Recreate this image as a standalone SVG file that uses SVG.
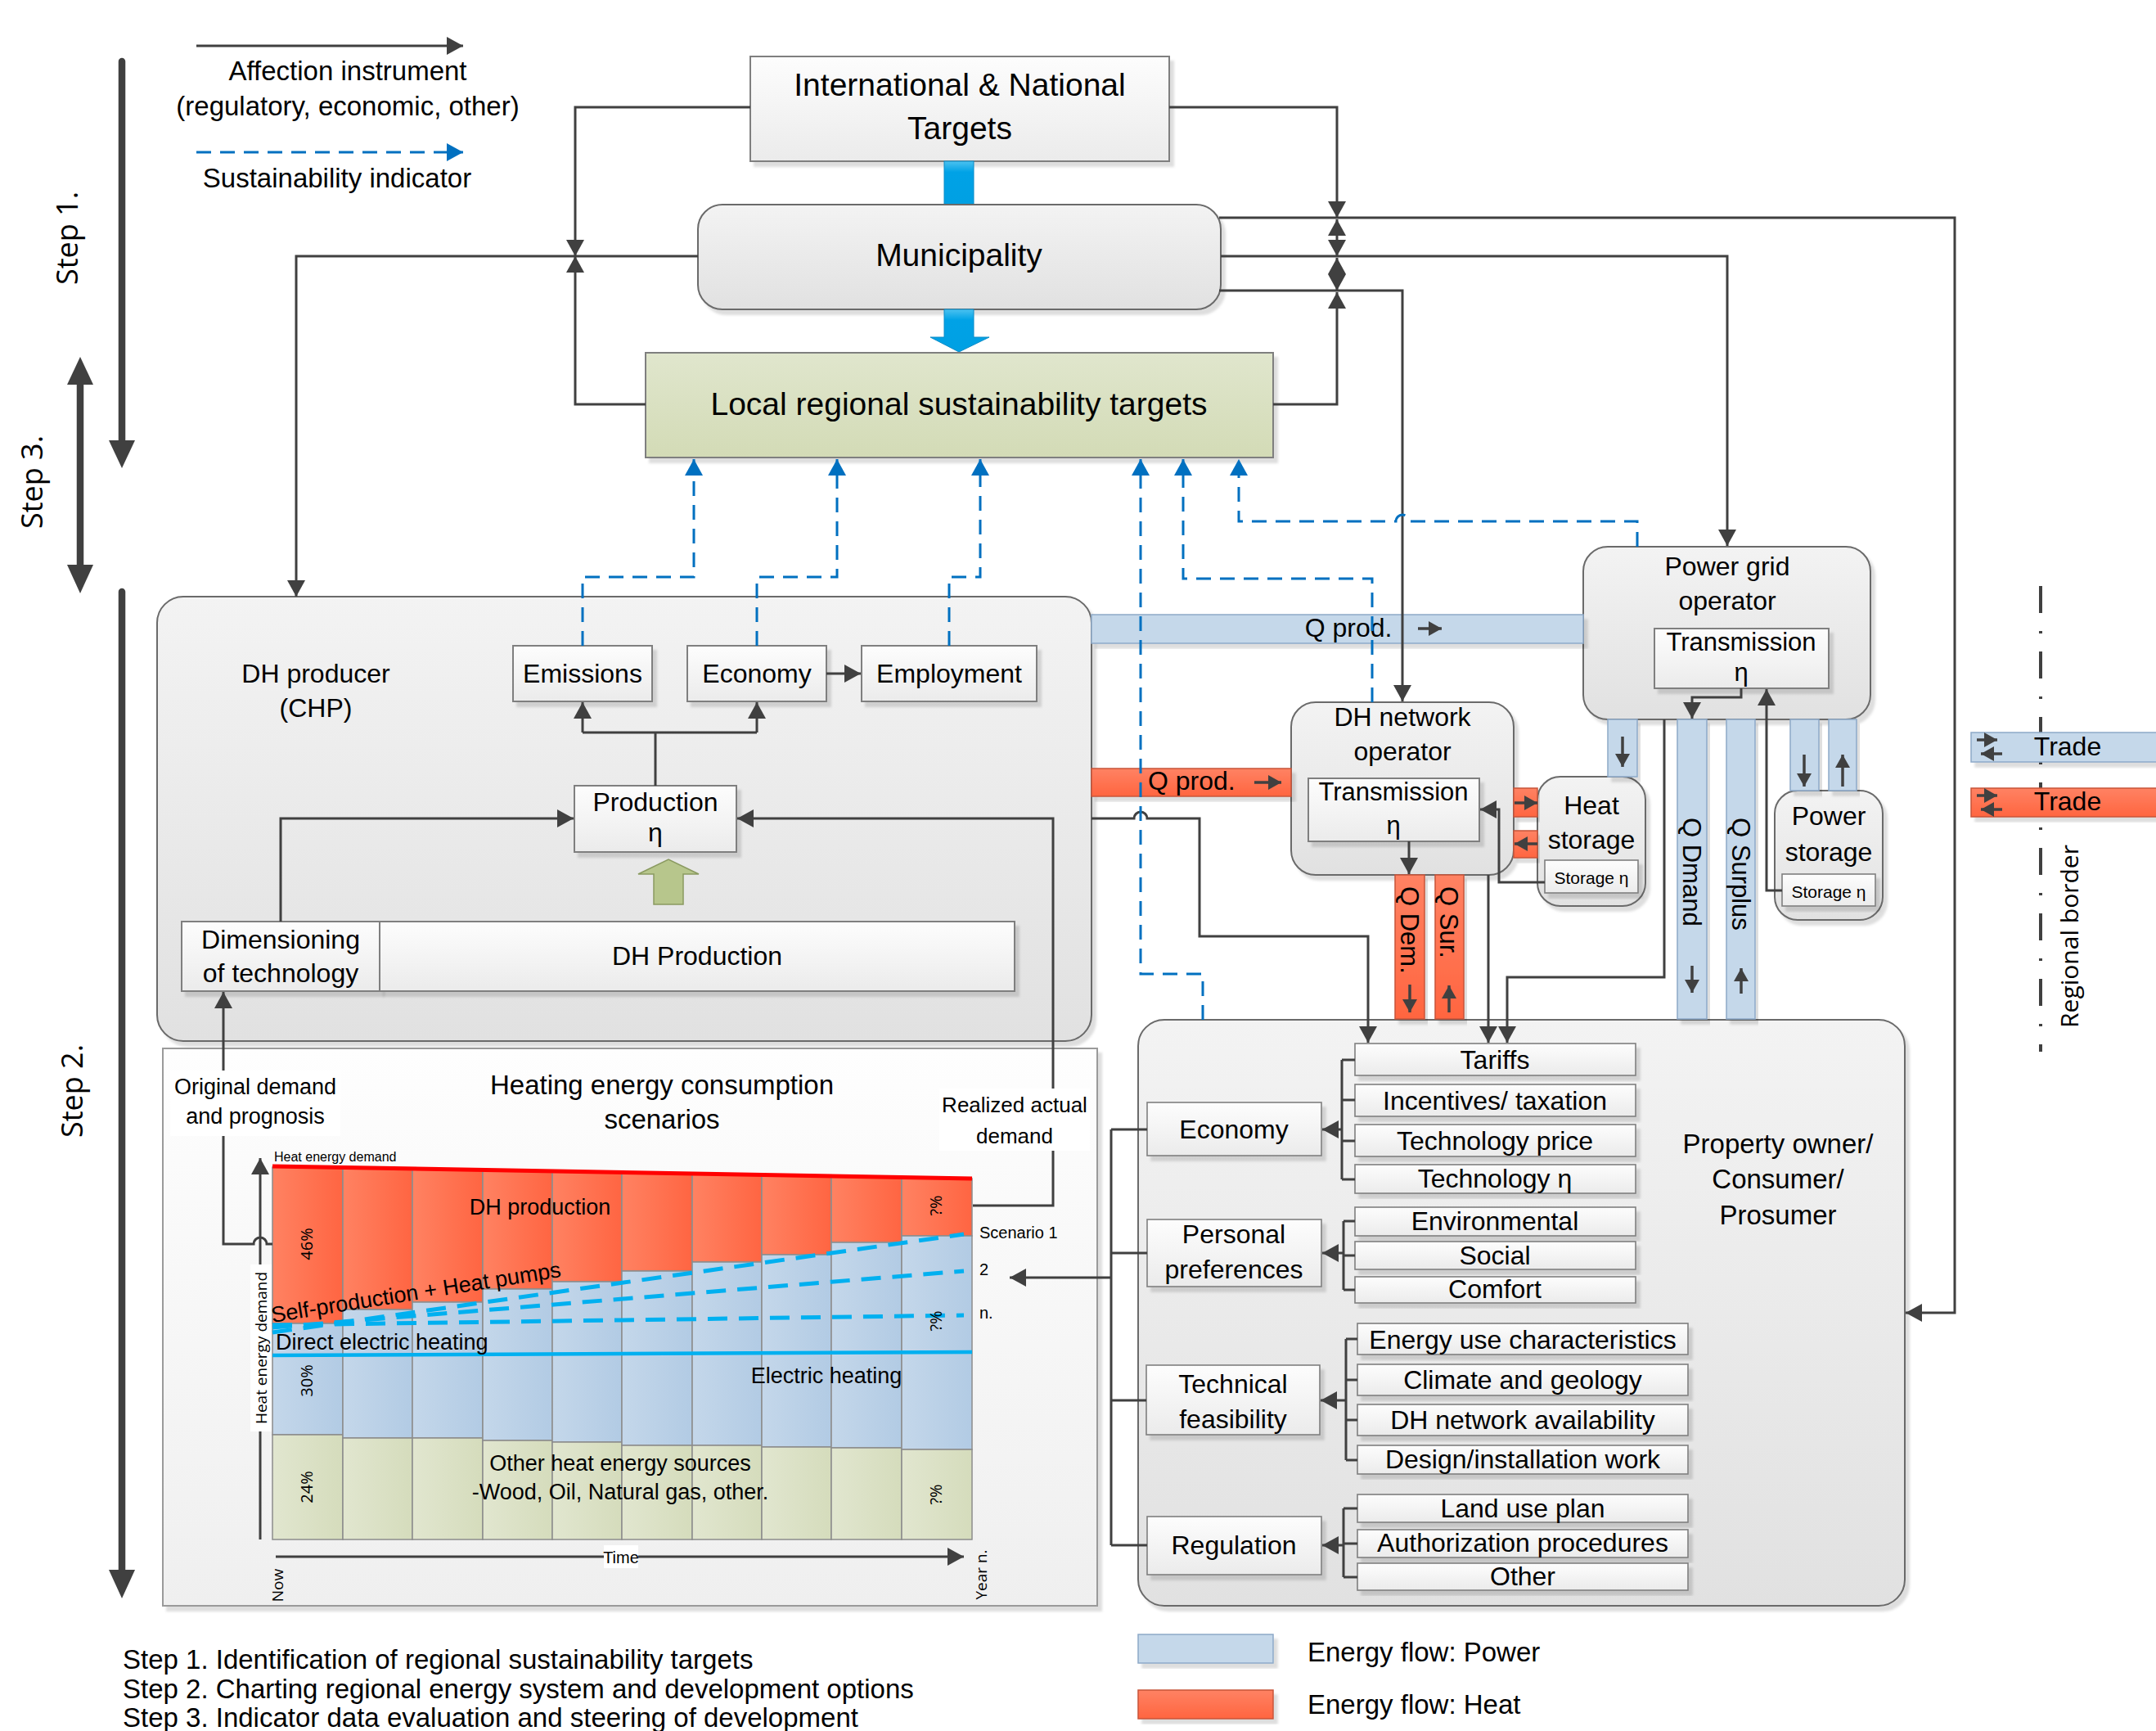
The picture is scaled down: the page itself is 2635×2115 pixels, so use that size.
<svg xmlns="http://www.w3.org/2000/svg" width="2635" height="2115" viewBox="0 0 2635 2115">
<defs>
<style>
text{font-family:"Liberation Sans",Arial,sans-serif;fill:#000}
.m{text-anchor:middle}
.o{font-family:"Open Sans","DejaVu Sans",sans-serif}
.s39{font-size:39px}.s33{font-size:33px}.s32{font-size:32px}.s31{font-size:31px}.s27{font-size:27px}.s26{font-size:26px}.s21{font-size:21px}.s20{font-size:20px}.s19{font-size:19px}.s16{font-size:16px}.s36{font-size:36px}.s30{font-size:30px}
.box{fill:url(#gBox);stroke:#7f7f7f;stroke-width:2;filter:url(#sh)}
.cont{fill:url(#gCont);stroke:#6a6a6a;stroke-width:2;filter:url(#sh)}
.sub{fill:url(#gBox);stroke:#7f7f7f;stroke-width:1.6;filter:url(#sh)}
.ln{fill:none;stroke:#404040;stroke-width:3}
.ds{fill:none;stroke:#0070c0;stroke-width:3;stroke-dasharray:18 11}
.pw{fill:#c5d8ea;stroke:#8da9c8;stroke-width:1.5;filter:url(#sh)}
.ht{fill:url(#gHeat);stroke:#c8543a;stroke-width:1.5;filter:url(#sh)}
.fa{fill:none;stroke:#404040;stroke-width:3.5}
.big{fill:none;stroke:#404040;stroke-width:8.5;stroke-linecap:round}
.bh{fill:#404040}
.br{fill:url(#gBarR);stroke:#8c8c8c;stroke-width:1.5}
.bb{fill:url(#gBarB);stroke:#8c8c8c;stroke-width:1.5}
.bg{fill:url(#gBarG);stroke:#8c8c8c;stroke-width:1.5}
.sc{fill:none;stroke:#00b0f0;stroke-width:5;stroke-dasharray:24 14}
</style>
<linearGradient id="gBox" x1="0" y1="0" x2="0" y2="1"><stop offset="0" stop-color="#fdfdfd"/><stop offset="1" stop-color="#ebebeb"/></linearGradient>
<linearGradient id="gCont" x1="0" y1="0" x2="0" y2="1"><stop offset="0" stop-color="#f3f3f3"/><stop offset="1" stop-color="#e1e1e1"/></linearGradient>
<linearGradient id="gChart" x1="0" y1="0" x2="0" y2="1"><stop offset="0" stop-color="#fefefe"/><stop offset="1" stop-color="#efefef"/></linearGradient>
<linearGradient id="gGreen" x1="0" y1="0" x2="0" y2="1"><stop offset="0" stop-color="#e0e6cd"/><stop offset="1" stop-color="#d3dbb6"/></linearGradient>
<linearGradient id="gHeat" x1="0" y1="0" x2="0" y2="1"><stop offset="0" stop-color="#ff8263"/><stop offset="1" stop-color="#ff6540"/></linearGradient>
<linearGradient id="gBarR" x1="0" y1="0" x2="1" y2="0"><stop offset="0" stop-color="#ff8262"/><stop offset="1" stop-color="#ff6542"/></linearGradient>
<linearGradient id="gBarB" x1="0" y1="0" x2="1" y2="0"><stop offset="0" stop-color="#c4d7ea"/><stop offset="1" stop-color="#b2cbe4"/></linearGradient>
<linearGradient id="gBarG" x1="0" y1="0" x2="1" y2="0"><stop offset="0" stop-color="#e1e6cf"/><stop offset="1" stop-color="#d5dcbc"/></linearGradient>
<linearGradient id="gBlueA" x1="0" y1="0" x2="0" y2="1"><stop offset="0" stop-color="#4cc2f0"/><stop offset="0.25" stop-color="#00a2e6"/><stop offset="1" stop-color="#00a0e3"/></linearGradient>
<filter id="sh" x="-5%" y="-5%" width="115%" height="125%"><feDropShadow dx="5" dy="6" stdDeviation="1.5" flood-color="#000" flood-opacity="0.13"/></filter>
<marker id="ah" viewBox="0 0 20 22" refX="20" refY="11" markerWidth="20" markerHeight="22" markerUnits="userSpaceOnUse" orient="auto"><path d="M0,0 L20,11 L0,22 z" fill="#404040"/></marker>
<marker id="ahb" viewBox="0 0 20 22" refX="20" refY="11" markerWidth="20" markerHeight="22" markerUnits="userSpaceOnUse" orient="auto"><path d="M0,0 L20,11 L0,22 z" fill="#0070c0"/></marker>
<marker id="ahs" viewBox="0 0 16 18" refX="16" refY="9" markerWidth="16" markerHeight="18" markerUnits="userSpaceOnUse" orient="auto"><path d="M0,0 L16,9 L0,18 z" fill="#404040"/></marker>
</defs>
<rect width="2635" height="2115" fill="#fff"/>

<g id="legend-top">
<path class="ln" d="M240,56 H566" marker-end="url(#ah)"/>
<text x="425" y="98" class="m s33">Affection instrument</text>
<text x="425" y="141" class="m s33">(regulatory, economic, other)</text>
<path class="ds" d="M240,186 H566" marker-end="url(#ahb)"/>
<text x="412" y="229" class="m s33">Sustainability indicator</text>
</g>

<g id="steps">
<path class="big" d="M149,75 V540"/><polygon class="bh" points="133,538 165,538 149,572"/>
<path class="big" d="M98,466 V694"/><polygon class="bh" points="82,470 114,470 98,436"/><polygon class="bh" points="82,690 114,690 98,725"/>
<path class="big" d="M149,723 V1920"/><polygon class="bh" points="133,1918 165,1918 149,1953"/>
<text class="o s36 m" transform="translate(95,291) rotate(-90)">Step 1.</text>
<text class="o s36 m" transform="translate(52,589) rotate(-90)">Step 3.</text>
<text class="o s36 m" transform="translate(101,1333) rotate(-90)">Step 2.</text>
</g>

<g id="intl">
<rect x="917" y="69" width="512" height="128" class="box"/>
<text x="1173" y="117" class="m s39">International &amp; National</text>
<text x="1173" y="170" class="m s39">Targets</text>
</g>
<g id="flow-intl-muni"><rect x="1154" y="197" width="36" height="53" fill="url(#gBlueA)" stroke="#0a8cc8" stroke-width="1"/></g>
<g id="municipality">
<rect x="853" y="250" width="639" height="128" rx="30" class="cont"/>
<text x="1172" y="325" class="m s39">Municipality</text>
</g>
<g id="flow-muni-local"><polygon points="1154,378 1190,378 1190,412 1209,412 1172,430 1137,412 1154,412" fill="url(#gBlueA)" stroke="#0a8cc8" stroke-width="1"/></g>
<g id="local">
<rect x="789" y="431" width="767" height="128" fill="url(#gGreen)" stroke="#7f7f7f" stroke-width="2" filter="url(#sh)"/>
<text x="1172" y="507" class="m s39">Local regional sustainability targets</text>
</g>

<g id="dh-producer">
<rect x="192" y="729" width="1142" height="543" rx="32" class="cont"/>
<text x="386" y="834" class="m s32">DH producer</text>
<text x="386" y="876" class="m s32">(CHP)</text>
</g>
<g id="emissions"><rect x="627" y="789" width="170" height="68" class="box"/><text x="712" y="834" class="m s32">Emissions</text></g>
<g id="economy-dh"><rect x="840" y="789" width="170" height="68" class="box"/><text x="925" y="834" class="m s32">Economy</text></g>
<g id="employment"><rect x="1053" y="789" width="214" height="68" class="box"/><text x="1160" y="834" class="m s32">Employment</text></g>
<g id="production"><rect x="702" y="960" width="198" height="81" class="box"/><text x="801" y="991" class="m s32">Production</text><text x="801" y="1028" class="m s32">η</text></g>
<g id="green-arrow"><polygon points="799,1105 835,1105 835,1068 854,1068 817,1050 780,1068 799,1068" fill="#b7c68c" stroke="#8a9a60" stroke-width="1.5"/></g>
<g id="dimensioning"><rect x="222" y="1126" width="242" height="85" class="box"/><text x="343" y="1159" class="m s32">Dimensioning</text><text x="343" y="1200" class="m s32">of technology</text></g>
<g id="dh-production"><rect x="464" y="1126" width="776" height="85" class="box"/><text x="852" y="1179" class="m s32">DH Production</text></g>

<g id="chart">
<rect x="199" y="1281" width="1142" height="681" fill="url(#gChart)" stroke="#9a9a9a" stroke-width="2" filter="url(#sh)"/>
<text x="809" y="1337" class="m s33">Heating energy consumption</text>
<text x="809" y="1379" class="m s33">scenarios</text>
<rect class="br" x="333" y="1426" width="86" height="191"/><rect class="bb" x="333" y="1617" width="86" height="136"/><rect class="bg" x="333" y="1753" width="86" height="128"/>
<rect class="br" x="419" y="1428" width="85" height="172"/><rect class="bb" x="419" y="1600" width="85" height="157"/><rect class="bg" x="419" y="1757" width="85" height="124"/>
<rect class="br" x="504" y="1429" width="86" height="162"/><rect class="bb" x="504" y="1591" width="86" height="166"/><rect class="bg" x="504" y="1757" width="86" height="124"/>
<rect class="br" x="590" y="1431" width="85" height="144"/><rect class="bb" x="590" y="1575" width="85" height="185"/><rect class="bg" x="590" y="1760" width="85" height="121"/>
<rect class="br" x="675" y="1432" width="85" height="134"/><rect class="bb" x="675" y="1566" width="85" height="196"/><rect class="bg" x="675" y="1762" width="85" height="119"/>
<rect class="br" x="760" y="1434" width="86" height="119"/><rect class="bb" x="760" y="1553" width="86" height="213"/><rect class="bg" x="760" y="1766" width="86" height="115"/>
<rect class="br" x="846" y="1435" width="85" height="107"/><rect class="bb" x="846" y="1542" width="85" height="224"/><rect class="bg" x="846" y="1766" width="85" height="115"/>
<rect class="br" x="931" y="1437" width="85" height="96"/><rect class="bb" x="931" y="1533" width="85" height="235"/><rect class="bg" x="931" y="1768" width="85" height="113"/>
<rect class="br" x="1016" y="1438" width="86" height="80"/><rect class="bb" x="1016" y="1518" width="86" height="251"/><rect class="bg" x="1016" y="1769" width="86" height="112"/>
<rect class="br" x="1102" y="1440" width="86" height="70"/><rect class="bb" x="1102" y="1510" width="86" height="261"/><rect class="bg" x="1102" y="1771" width="86" height="110"/>
<path d="M333,1425 L1188,1440" stroke="#ff0000" stroke-width="5" fill="none"/>
<path d="M333,1656 L1188,1652" stroke="#00b0f0" stroke-width="4.5" fill="none"/>
<path class="sc" d="M333,1628 L1178,1508"/>
<path class="sc" d="M333,1622 L1178,1553"/>
<path class="sc" d="M333,1619 L1178,1607"/>
<text x="335" y="1419" class="s16">Heat energy demand</text>
<text x="660" y="1484" class="m s27">DH production</text>
<text class="s27" transform="translate(333,1616) rotate(-9)">Self-production + Heat pumps</text>
<text x="337" y="1649" class="s27">Direct electric heating</text>
<text x="1010" y="1690" class="m s27">Electric heating</text>
<text x="758" y="1797" class="m s27">Other heat energy sources</text>
<text x="758" y="1832" class="m s27">-Wood, Oil, Natural gas, other.</text>
<text class="o s20 m" transform="translate(382,1520) rotate(-90)">46%</text>
<text class="o s20 m" transform="translate(382,1687) rotate(-90)">30%</text>
<text class="o s20 m" transform="translate(382,1817) rotate(-90)">24%</text>
<text class="o s20 m" transform="translate(1151,1473) rotate(-90)">?%</text>
<text class="o s20 m" transform="translate(1151,1614) rotate(-90)">?%</text>
<text class="o s20 m" transform="translate(1151,1826) rotate(-90)">?%</text>
<text x="1197" y="1513" class="s20">Scenario 1</text>
<text x="1197" y="1558" class="s20">2</text>
<text x="1197" y="1611" class="s20">n.</text>
<path class="ln" d="M318,1881 V1415" marker-end="url(#ah)"/>
<path class="ln" d="M337,1902 H1178" marker-end="url(#ah)"/>
<rect x="306" y="1545" width="26" height="204" fill="#fff"/>
<text class="o s19 m" transform="translate(326,1647) rotate(-90)">Heat energy demand</text>
<rect x="738" y="1888" width="42" height="28" fill="#fff"/>
<text x="759" y="1910" class="m s20">Time</text>
<text class="o s19 m" transform="translate(346,1937) rotate(-90)">Now</text>
<text class="o s19 m" transform="translate(1206,1924) rotate(-90)">Year n.</text>
</g>

<g id="property-owner">
<rect x="1391" y="1246" width="937" height="716" rx="32" class="cont"/>
<text x="2173" y="1409" class="m s33">Property owner/</text>
<text x="2173" y="1452" class="m s33">Consumer/</text>
<text x="2173" y="1496" class="m s33">Prosumer</text>
</g>
<g id="economy-po"><rect x="1402" y="1347" width="213" height="65" class="sub"/><text x="1508" y="1391" class="m s32">Economy</text></g>
<g id="personal"><rect x="1402" y="1490" width="213" height="82" class="sub"/><text x="1508" y="1519" class="m s32">Personal</text><text x="1508" y="1562" class="m s32">preferences</text></g>
<g id="technical"><rect x="1401" y="1668" width="212" height="85" class="sub"/><text x="1507" y="1702" class="m s32">Technical</text><text x="1507" y="1745" class="m s32">feasibility</text></g>
<g id="regulation"><rect x="1402" y="1853" width="213" height="71" class="sub"/><text x="1508" y="1899" class="m s32">Regulation</text></g>
<g id="tariffs"><rect x="1656" y="1275" width="343" height="39" class="sub"/><text x="1827" y="1306" class="m s32">Tariffs</text></g>
<g id="incentives"><rect x="1656" y="1325" width="343" height="39" class="sub"/><text x="1827" y="1356" class="m s32">Incentives/ taxation</text></g>
<g id="tech-price"><rect x="1656" y="1374" width="343" height="39" class="sub"/><text x="1827" y="1405" class="m s32">Technology price</text></g>
<g id="tech-eta"><rect x="1656" y="1423" width="343" height="35" class="sub"/><text x="1827" y="1451" class="m s32">Technology η</text></g>
<g id="environmental"><rect x="1656" y="1475" width="343" height="35" class="sub"/><text x="1827" y="1503" class="m s32">Environmental</text></g>
<g id="social"><rect x="1656" y="1517" width="343" height="34" class="sub"/><text x="1827" y="1545" class="m s32">Social</text></g>
<g id="comfort"><rect x="1656" y="1560" width="343" height="32" class="sub"/><text x="1827" y="1586" class="m s32">Comfort</text></g>
<g id="energy-use"><rect x="1659" y="1617" width="404" height="38" class="sub"/><text x="1861" y="1648" class="m s32">Energy use characteristics</text></g>
<g id="climate"><rect x="1659" y="1667" width="404" height="38" class="sub"/><text x="1861" y="1697" class="m s32">Climate and geology</text></g>
<g id="dh-avail"><rect x="1659" y="1716" width="404" height="38" class="sub"/><text x="1861" y="1746" class="m s32">DH network availability</text></g>
<g id="design"><rect x="1659" y="1766" width="404" height="35" class="sub"/><text x="1861" y="1794" class="m s32">Design/installation work</text></g>
<g id="land-use"><rect x="1659" y="1826" width="404" height="34" class="sub"/><text x="1861" y="1854" class="m s32">Land use plan</text></g>
<g id="authorization"><rect x="1659" y="1869" width="404" height="34" class="sub"/><text x="1861" y="1896" class="m s32">Authorization procedures</text></g>
<g id="other"><rect x="1659" y="1910" width="404" height="33" class="sub"/><text x="1861" y="1937" class="m s32">Other</text></g>

<g id="dh-network">
<rect x="1578" y="858" width="272" height="211" rx="30" class="cont"/>
<text x="1714" y="887" class="m s32">DH network</text>
<text x="1714" y="929" class="m s32">operator</text>
<rect x="1599" y="951" width="209" height="77" class="box"/>
<text x="1703" y="978" class="m s31">Transmission</text>
<text x="1703" y="1019" class="m s31">η</text>
</g>
<g id="heat-storage">
<rect x="1879" y="949" width="132" height="158" rx="28" class="cont"/>
<text x="1945" y="995" class="m s32">Heat</text>
<text x="1945" y="1037" class="m s32">storage</text>
<rect x="1888" y="1051" width="114" height="40" class="sub"/>
<text x="1945" y="1080" class="m s21">Storage η</text>
</g>
<g id="power-grid">
<rect x="1935" y="668" width="351" height="211" rx="30" class="cont"/>
<text x="2111" y="703" class="m s32">Power grid</text>
<text x="2111" y="745" class="m s32">operator</text>
<rect x="2022" y="768" width="213" height="73" class="box"/>
<text x="2128" y="795" class="m s31">Transmission</text>
<text x="2128" y="832" class="m s31">η</text>
</g>
<g id="power-storage">
<rect x="2169" y="966" width="132" height="158" rx="28" class="cont"/>
<text x="2235" y="1008" class="m s32">Power</text>
<text x="2235" y="1052" class="m s32">storage</text>
<rect x="2178" y="1068" width="114" height="39" class="sub"/>
<text x="2235" y="1097" class="m s21">Storage η</text>
</g>

<g id="flows">
<rect class="pw" x="1334" y="751" width="601" height="35"/>
<text x="1648" y="778" class="m s32">Q prod.</text>
<path class="fa" d="M1733,768 H1762" marker-end="url(#ahs)"/>
<rect class="ht" x="1334" y="939" width="244" height="34"/>
<text x="1403" y="965" class="s32">Q prod.</text>
<path class="fa" d="M1533,956 H1566" marker-end="url(#ahs)"/>
<rect class="ht" x="1705" y="1069" width="36" height="176"/>
<text class="s31" transform="translate(1712,1083) rotate(90)">Q Dem.</text>
<path class="fa" d="M1723,1203 V1237" marker-end="url(#ahs)"/>
<rect class="ht" x="1754" y="1069" width="35" height="176"/>
<text class="s31" transform="translate(1760,1083) rotate(90)">Q Sur.</text>
<path class="fa" d="M1771,1237 V1204" marker-end="url(#ahs)"/>
<rect class="ht" x="1850" y="963" width="29" height="35"/>
<path class="fa" d="M1851,981 H1879" marker-end="url(#ahs)"/>
<rect class="ht" x="1850" y="1015" width="29" height="33"/>
<path class="fa" d="M1879,1031 H1851" marker-end="url(#ahs)"/>
<rect class="pw" x="1965" y="879" width="36" height="70"/>
<path class="fa" d="M1983,900 V937" marker-end="url(#ahs)"/>
<rect class="pw" x="2050" y="879" width="36" height="366"/>
<text class="s31" transform="translate(2057,999) rotate(90)">Q Dmand</text>
<path class="fa" d="M2068,1180 V1213" marker-end="url(#ahs)"/>
<rect class="pw" x="2110" y="879" width="35" height="366"/>
<text class="s31" transform="translate(2117,999) rotate(90)">Q Surplus</text>
<path class="fa" d="M2128,1214 V1183" marker-end="url(#ahs)"/>
<rect class="pw" x="2188" y="879" width="35" height="87"/>
<path class="fa" d="M2205,922 V961" marker-end="url(#ahs)"/>
<rect class="pw" x="2235" y="879" width="34" height="87"/>
<path class="fa" d="M2252,961 V922" marker-end="url(#ahs)"/>
</g>

<g id="regional-border">
<path d="M2494,716 V1285" stroke="#404040" stroke-width="4" stroke-dasharray="33 22 3 22" fill="none"/>
<text class="o s30 m" transform="translate(2540,1144) rotate(-90)">Regional border</text>
</g>
<g id="trade-power">
<rect class="pw" x="2409" y="895" width="240" height="36"/>
<path class="fa" d="M2416,904 H2441" marker-end="url(#ahs)"/>
<path class="fa" d="M2447,921 H2421" marker-end="url(#ahs)"/>
<text x="2527" y="923" class="m s32">Trade</text>
</g>
<g id="trade-heat">
<rect class="ht" x="2409" y="963" width="240" height="35"/>
<path class="fa" d="M2416,972 H2441" marker-end="url(#ahs)"/>
<path class="fa" d="M2447,989 H2421" marker-end="url(#ahs)"/>
<text x="2527" y="990" class="m s32">Trade</text>
</g>

<g id="connectors">
<path class="ln" d="M917,131 H703 V313" marker-end="url(#ah)"/>
<path class="ln" d="M789,494 H703 V313" marker-end="url(#ah)"/>
<path class="ln" d="M853,313 H362 V729" marker-end="url(#ah)"/>
<path class="ln" d="M1429,131 H1634 V266" marker-end="url(#ah)"/>
<path class="ln" d="M1634,290 V268" marker-end="url(#ah)"/>
<path class="ln" d="M1634,290 V313" marker-end="url(#ah)"/>
<path class="ln" d="M1634,335 V315" marker-end="url(#ah)"/>
<path class="ln" d="M1634,335 V355" marker-end="url(#ah)"/>
<path class="ln" d="M1556,494 H1634 V357" marker-end="url(#ah)"/>
<path class="ln" d="M1490,266 H2389 V1604 H2329" marker-end="url(#ah)"/>
<path class="ln" d="M1492,313 H2111 V667" marker-end="url(#ah)"/>
<path class="ln" d="M1490,355 H1714 V857" marker-end="url(#ah)"/>
<path class="ln" d="M801,960 V895"/>
<path class="ln" d="M712,895 H925"/>
<path class="ln" d="M712,895 V858" marker-end="url(#ah)"/>
<path class="ln" d="M925,895 V858" marker-end="url(#ah)"/>
<path class="ln" d="M1010,823 H1052" marker-end="url(#ah)"/>
<path class="ln" d="M343,1126 V1000 H701" marker-end="url(#ah)"/>
<path class="ln" d="M1189,1473 H1287 V1000 H901" marker-end="url(#ah)"/>
<path class="ln" d="M333,1520 H326 a8,8 0 0 0 -16,0 H273 V1212" marker-end="url(#ah)"/>
<path class="ln" d="M1334,1000 H1386 a8,8 0 0 1 16,0 H1466 V1144 H1672 V1274" marker-end="url(#ah)"/>
<path class="ln" d="M1722,1028 V1068" marker-end="url(#ah)"/>
<path class="ln" d="M1888,1078 H1832 V989 H1809" marker-end="url(#ah)"/>
<path class="ln" d="M1819,1069 V1274" marker-end="url(#ah)"/>
<path class="ln" d="M2034,879 V1194 H1842 V1274" marker-end="url(#ah)"/>
<path class="ln" d="M2128,841 V852 H2068 V878" marker-end="url(#ah)"/>
<path class="ln" d="M2178,1088 H2159 V842" marker-end="url(#ah)"/>
<path class="ln" d="M1640,1295 V1441 M1640,1295 H1656 M1640,1344 H1656 M1640,1394 H1656 M1640,1441 H1656"/>
<path class="ln" d="M1640,1380 H1616" marker-end="url(#ah)"/>
<path class="ln" d="M1642,1492 V1576 M1642,1492 H1656 M1642,1534 H1656 M1642,1576 H1656"/>
<path class="ln" d="M1642,1531 H1616" marker-end="url(#ah)"/>
<path class="ln" d="M1645,1636 V1784 M1645,1636 H1659 M1645,1686 H1659 M1645,1735 H1659 M1645,1784 H1659"/>
<path class="ln" d="M1645,1711 H1614" marker-end="url(#ah)"/>
<path class="ln" d="M1642,1843 V1927 M1642,1843 H1659 M1642,1886 H1659 M1642,1927 H1659"/>
<path class="ln" d="M1642,1888 H1616" marker-end="url(#ah)"/>
<path class="ln" d="M1358,1380 V1888 M1358,1380 H1402 M1358,1531 H1402 M1358,1711 H1401 M1358,1888 H1402"/>
<path class="ln" d="M1358,1561 H1234" marker-end="url(#ah)"/>
<path class="ds" d="M712,789 V705 H848 V561" marker-end="url(#ahb)"/>
<path class="ds" d="M925,789 V705 H1023 V561" marker-end="url(#ahb)"/>
<path class="ds" d="M1160,789 V705 H1198 V561" marker-end="url(#ahb)"/>
<path class="ds" d="M1470,1246 V1190 H1394 V561" marker-end="url(#ahb)"/>
<path class="ds" d="M1677,858 V707 H1446 V561" marker-end="url(#ahb)"/>
<path class="ds" d="M2001,668 V637 H1722 a8,8 0 0 0 -16,0 H1514 V561" marker-end="url(#ahb)"/>
</g>

<g id="chart-labels">
<rect x="208" y="1308" width="208" height="80" fill="#fff"/>
<text x="312" y="1337" class="m s27">Original demand</text>
<text x="312" y="1373" class="m s27">and prognosis</text>
<rect x="1148" y="1330" width="184" height="76" fill="#fff"/>
<text x="1240" y="1359" class="m s26">Realized actual</text>
<text x="1240" y="1397" class="m s26">demand</text>
</g>

<g id="legend-steps">
<text x="150" y="2039" class="s33">Step 1. Identification of regional sustainability targets</text>
<text x="150" y="2075" class="s33">Step 2. Charting regional energy system and development options</text>
<text x="150" y="2110" class="s33">Step 3. Indicator data evaluation and steering of development</text>
</g>
<g id="legend-flows">
<rect class="pw" x="1391" y="1997" width="165" height="35"/>
<text x="1598" y="2030" class="s33">Energy flow: Power</text>
<rect class="ht" x="1391" y="2065" width="165" height="35"/>
<text x="1598" y="2094" class="s33">Energy flow: Heat</text>
</g>
</svg>
